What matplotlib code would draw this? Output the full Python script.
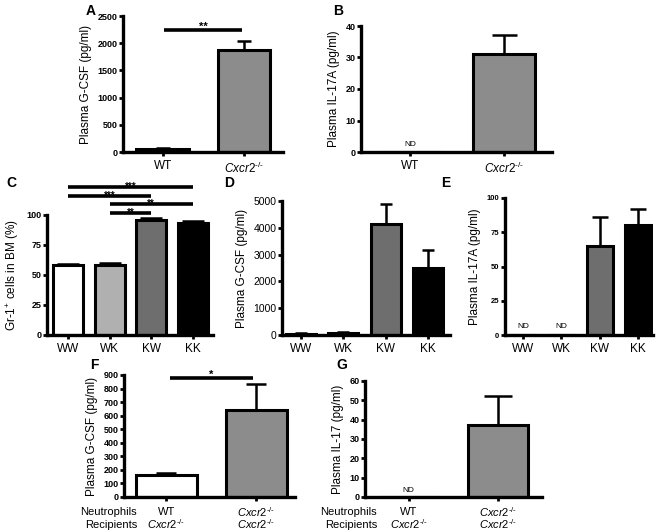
import matplotlib
matplotlib.use("Agg")
import matplotlib.pyplot as plt
from matplotlib.transforms import blended_transform_factory

plt.rcParams["font.family"] = ["Liberation Sans", "DejaVu Sans"]
plt.rcParams["mathtext.fontset"] = "custom"
plt.rcParams["mathtext.rm"] = "Liberation Sans"
plt.rcParams["mathtext.it"] = "Liberation Sans:italic"

KO = r"$\mathit{Cxcr2}^{\text{-/-}}$"

# Panel A: plasma G-CSF
a_groups = ["WT", KO]
a_means = [60, 1880]
a_err = [20, 160]

# Panel B: plasma IL-17A
b_groups = ["WT", KO]
b_means = [0, 31]
b_err = [0, 6]

# Panels C-E: chimeras
chim_groups = ["WW", "WK", "KW", "KK"]
c_means = [58, 58.5, 96, 93]
c_err = [1.5, 1.2, 1.2, 2]
d_means = [50, 80, 4150, 2500]
d_err = [10, 15, 720, 680]
e_means = [0, 0, 65, 80]
e_err = [0, 0, 21, 12]

# Panels F-G: neutrophil transfer
fg_neut = ["WT", KO]
fg_recip = [KO, KO]
f_means = [165, 640]
f_err = [15, 190]
g_means = [0, 37]
g_err = [0, 15]

W, H = 665, 532
fig = plt.figure(figsize=(W / 100, H / 100), dpi=100)


def px_axes(l, t, r, b):
    return fig.add_axes([l / W, 1 - b / H, (r - l) / W, (b - t) / H])


def bar_panel(ax, means, errs, colors, width, ylim, step, ylabel, xlim,
              cap=6):
    x = list(range(len(means)))
    ax.bar(x, means, width=width, color=colors, edgecolor="black",
           linewidth=2.2, zorder=2)
    for xi, m, e in zip(x, means, errs):
        if e > 0:
            ax.errorbar(xi, m, yerr=[[0], [e]], fmt="none", ecolor="black",
                        elinewidth=1.8, capsize=cap, capthick=1.8,
                        zorder=1)
    ax.set_xlim(*xlim)
    ax.set_ylim(0, ylim)
    ax.set_yticks(range(0, ylim + 1, step))
    ax.set_xticks(x)
    for s in ["top", "right"]:
        ax.spines[s].set_visible(False)
    for s in ["left", "bottom"]:
        ax.spines[s].set_linewidth(2.4)
    ax.tick_params(axis="y", direction="out", length=3, width=2,
                   labelsize=6.5, pad=1)
    ax.tick_params(axis="x", direction="out", length=3, width=2,
                   labelsize=8.5, pad=3)
    for lab in ax.get_yticklabels():
        lab.set_fontweight("bold")
    ax.set_ylabel(ylabel, fontsize=8.5, labelpad=4)
    return x


def sig(ax, x0, x1, y, stars, fs=8, drop=-2.0):
    # drop: baseline shift in points relative to the bar line
    ax.plot([x0, x1], [y, y], color="black", lw=2.6, clip_on=False,
            solid_capstyle="butt", zorder=3)
    ax.annotate(stars, ((x0 + x1) / 2, y), xytext=(0, drop),
                textcoords="offset points", ha="center", va="baseline",
                fontsize=fs, fontweight="bold", annotation_clip=False,
                zorder=6)


# A
axA = px_axes(123, 16, 283, 152)
bar_panel(axA, a_means, a_err, ["#a6a6a6", "#8c8c8c"], 0.65, 2500, 500,
          "Plasma G-CSF (pg/ml)", (-0.49, 1.48), cap=5)
axA.set_xticklabels(a_groups)
sig(axA, 0.02, 0.97, 2240, "**", drop=0)

# B
axB = px_axes(361, 26, 552, 152)
bar_panel(axB, b_means, b_err, ["#8c8c8c", "#8c8c8c"], 0.66, 40, 10,
          "Plasma IL-17A (pg/ml)", (-0.52, 1.51), cap=9)
axB.set_xticklabels(b_groups)
axB.text(0, 1.2, "ND", ha="center", va="bottom", fontsize=6)

# C
chim_colors = ["white", "#b0b0b0", "#6e6e6e", "black"]
axC = px_axes(47, 215, 213, 335)
bar_panel(axC, c_means, c_err, chim_colors, 0.72, 100, 25,
          r"Gr-1$^{+}$ cells in BM (%)", (-0.5, 3.48), cap=8)
axC.set_xticklabels(chim_groups)
sig(axC, 0, 3, 123, "***", fs=7)
sig(axC, 0, 2, 116, "***", fs=7)
sig(axC, 1, 3, 109, "**", fs=7)
sig(axC, 1, 2, 101.8, "**", fs=7)

# D
axD = px_axes(282, 201, 450, 335)
bar_panel(axD, d_means, d_err, chim_colors, 0.71, 5000, 1000,
          "Plasma G-CSF (pg/ml)", (-0.45, 3.52), cap=4.5)
axD.set_xticklabels(chim_groups)
for lab in axD.get_yticklabels():
    lab.set_fontweight("normal")
axD.tick_params(axis="y", labelsize=7.5)

# E
axE = px_axes(505, 198, 653, 335)
bar_panel(axE, e_means, e_err, chim_colors, 0.68, 100, 25,
          "Plasma IL-17A (pg/ml)", (-0.47, 3.39), cap=6)
axE.set_xticklabels(chim_groups)
axE.tick_params(axis="y", labelsize=5.5)
for i in (0, 1):
    axE.text(i, 4, "ND", ha="center", va="bottom", fontsize=6)


def two_row_labels(ax, inset_px):
    ax.set_xticklabels([])
    tr = blended_transform_factory(ax.transData, ax.transAxes)
    h = ax.get_position().height * H
    y1 = -15 / h
    y2 = -27.5 / h
    for i, (n, r) in enumerate(zip(fg_neut, fg_recip)):
        ax.text(i, y1, n, transform=tr, ha="center", va="center", fontsize=8)
        ax.text(i, y2, r, transform=tr, ha="center", va="center", fontsize=8)
    xr = inset_px / (ax.get_position().width * W)
    ax.text(xr, y1, "Neutrophils", transform=ax.transAxes, ha="right",
            va="center", fontsize=8)
    ax.text(xr, y2, "Recipients", transform=ax.transAxes, ha="right",
            va="center", fontsize=8)


# F
axF = px_axes(124, 375, 295, 497)
bar_panel(axF, f_means, f_err, ["white", "#8c8c8c"], 0.68, 900, 100,
          "Plasma G-CSF (pg/ml)", (-0.47, 1.43), cap=7)
two_row_labels(axF, 13)
sig(axF, 0.04, 0.96, 880, "*", drop=0)

# G
axG = px_axes(365, 381, 542, 497)
bar_panel(axG, g_means, g_err, ["#8c8c8c", "#8c8c8c"], 0.67, 60, 10,
          "Plasma IL-17 (pg/ml)", (-0.49, 1.49), cap=10)
two_row_labels(axG, 12)
axG.text(0, 1.5, "ND", ha="center", va="bottom", fontsize=6)

# panel letters
for letter, (lx, ly) in {"A": (86, 4), "B": (333, 4), "C": (6, 176),
                         "D": (224, 176), "E": (441, 176),
                         "F": (90, 358), "G": (336, 358)}.items():
    fig.text(lx / W, 1 - ly / H, letter, fontsize=10, fontweight="bold",
             ha="left", va="top")

fig.savefig("out.png", dpi=100)
